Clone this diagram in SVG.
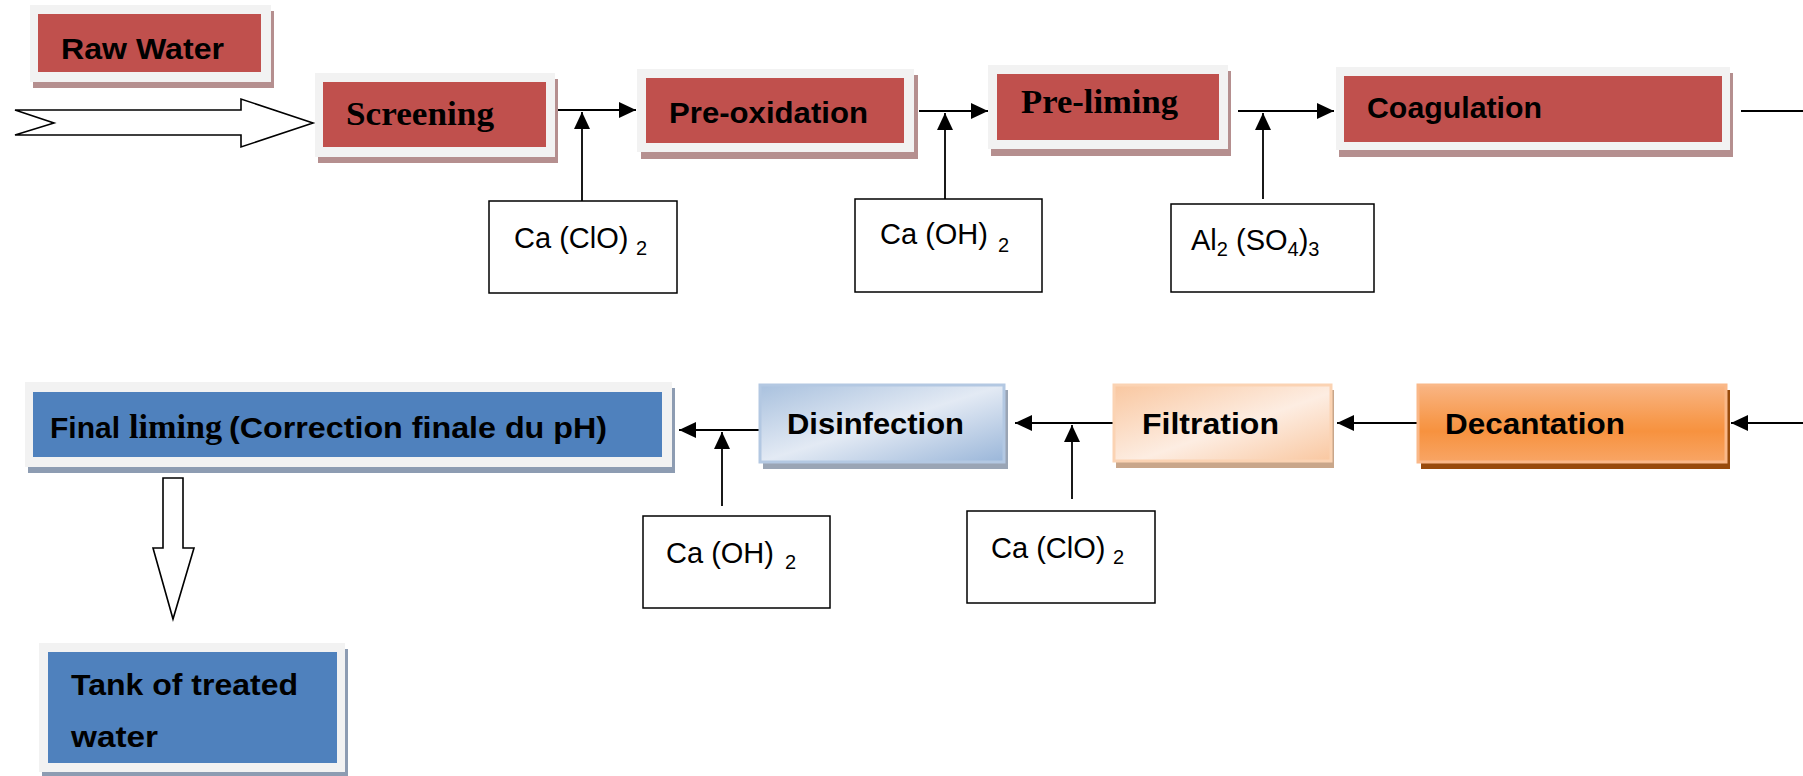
<svg xmlns="http://www.w3.org/2000/svg" width="1803" height="776" viewBox="0 0 1803 776">
<defs>
<style>
.frame{fill:#f2f2f2}
.shR{fill:#b58f8f}
.shB{fill:#8d9cb2}
.red{fill:#c0504d}
.blue{fill:#4f81bd}
.lbl{font-family:"Liberation Sans",Arial,sans-serif;font-weight:bold;font-size:30px;fill:#000}
.ser{font-family:"Liberation Serif","Times New Roman",serif;font-weight:bold;font-size:34px;fill:#000}
.chem{font-family:"Liberation Sans",Arial,sans-serif;font-size:29px;fill:#000}
.sub{font-family:"Liberation Sans",Arial,sans-serif;font-size:20px;fill:#000}
.cbox{fill:#fff;stroke:#000;stroke-width:1.5}
.con{fill:none;stroke:#000;stroke-width:1.8}
.hollow{fill:#fff;stroke:#000;stroke-width:1.6;stroke-linejoin:miter}
</style>
<marker id="ah" markerWidth="17" markerHeight="16" refX="17" refY="8" orient="auto" markerUnits="userSpaceOnUse">
<path d="M0,0 L17,8 L0,16 Z" fill="#000"/>
</marker>
<linearGradient id="gDis" x1="0" y1="0" x2="1" y2="1">
<stop offset="0" stop-color="#a9c1de"/>
<stop offset="0.5" stop-color="#e3eaf4"/>
<stop offset="1" stop-color="#9ab6d9"/>
</linearGradient>
<linearGradient id="gFil" x1="0" y1="0" x2="1" y2="1">
<stop offset="0" stop-color="#f9c7a0"/>
<stop offset="0.55" stop-color="#fdede2"/>
<stop offset="1" stop-color="#f9c7a0"/>
</linearGradient>
<linearGradient id="gDec" x1="0" y1="0" x2="0" y2="1">
<stop offset="0" stop-color="#f9b584"/>
<stop offset="0.45" stop-color="#f79a4e"/>
<stop offset="0.6" stop-color="#f7923f"/>
<stop offset="1" stop-color="#f8a565"/>
</linearGradient>
</defs>
<rect width="1803" height="776" fill="#fff"/>

<g id="connectors">
<path class="hollow" d="M15,110 L241,110 L241,99 L313,123 L241,147 L241,135 L15,135 L54,123 Z"/>
<path class="hollow" d="M163,478 H183 V548 H194 L173,619 L153,548 H163 Z"/>
<path class="con" d="M557,110 H636" marker-end="url(#ah)"/>
<path class="con" d="M582,201 V112" marker-end="url(#ah)"/>
<path class="con" d="M919,111 H988" marker-end="url(#ah)"/>
<path class="con" d="M945,199 V113" marker-end="url(#ah)"/>
<path class="con" d="M1238,111 H1334" marker-end="url(#ah)"/>
<path class="con" d="M1263,199 V113" marker-end="url(#ah)"/>
<path class="con" d="M1741,111 H1803"/>
<path class="con" d="M1803,423 H1731" marker-end="url(#ah)"/>
<path class="con" d="M1417,423 H1337" marker-end="url(#ah)"/>
<path class="con" d="M1113,423 H1015" marker-end="url(#ah)"/>
<path class="con" d="M1072,499 V425" marker-end="url(#ah)"/>
<path class="con" d="M759,430 H679" marker-end="url(#ah)"/>
<path class="con" d="M722,506 V432" marker-end="url(#ah)"/>
</g>

<g id="raw-water">
<rect class="shR" x="33" y="11" width="241" height="77"/>
<rect class="frame" x="30" y="5" width="241" height="77"/>
<rect class="red" x="38" y="14" width="223" height="58"/>
<text class="lbl" x="61" y="59" textLength="163" lengthAdjust="spacingAndGlyphs">Raw Water</text>
</g>

<g id="screening">
<rect class="shR" x="318" y="79" width="240" height="84"/>
<rect class="frame" x="315" y="73" width="240" height="84"/>
<rect class="red" x="323" y="82" width="223" height="65"/>
<text class="ser" x="346" y="125" textLength="148" lengthAdjust="spacingAndGlyphs">Screening</text>
</g>

<g id="pre-oxidation">
<rect class="shR" x="641" y="75" width="277" height="84"/>
<rect class="frame" x="637" y="69" width="277" height="83"/>
<rect class="red" x="646" y="78" width="258" height="65"/>
<text class="lbl" x="669" y="123" textLength="199" lengthAdjust="spacingAndGlyphs">Pre-oxidation</text>
</g>

<g id="pre-liming">
<rect class="shR" x="991" y="71" width="240" height="85"/>
<rect class="frame" x="988" y="65" width="240" height="84"/>
<rect class="red" x="997" y="74" width="222" height="66"/>
<text class="ser" x="1021" y="113" textLength="157" lengthAdjust="spacingAndGlyphs">Pre-liming</text>
</g>

<g id="coagulation">
<rect class="shR" x="1339" y="73" width="394" height="84"/>
<rect class="frame" x="1336" y="67" width="394" height="83"/>
<rect class="red" x="1344" y="76" width="378" height="66"/>
<text class="lbl" x="1367" y="118" textLength="175" lengthAdjust="spacingAndGlyphs">Coagulation</text>
</g>

<g id="chem-caclo2-1">
<rect class="cbox" x="489" y="201" width="188" height="92"/>
<text class="chem" x="514" y="248">Ca (ClO)</text>
<text class="sub" x="636" y="255">2</text>
</g>

<g id="chem-caoh2-1">
<rect class="cbox" x="855" y="199" width="187" height="93"/>
<text class="chem" x="880" y="244">Ca (OH)</text>
<text class="sub" x="998" y="252">2</text>
</g>

<g id="chem-al2so43">
<rect class="cbox" x="1171" y="204" width="203" height="88"/>
<text class="chem" x="1191" y="250">Al<tspan class="sub" dy="6">2</tspan><tspan dy="-6"> (SO</tspan><tspan class="sub" dy="6">4</tspan><tspan dy="-6">)</tspan><tspan class="sub" dy="6">3</tspan></text>
</g>

<g id="final-liming">
<rect class="shB" x="28" y="388" width="647" height="85"/>
<rect class="frame" x="25" y="382" width="647" height="85"/>
<rect class="blue" x="33" y="392" width="629" height="65"/>
<text class="lbl" x="50" y="438">Final</text>
<text class="ser" x="129" y="438" font-size="32" textLength="93" lengthAdjust="spacingAndGlyphs">liming</text>
<text class="lbl" x="229" y="438" textLength="378" lengthAdjust="spacingAndGlyphs">(Correction finale du pH)</text>
</g>

<g id="disinfection">
<rect fill="#9aa5b5" x="763" y="390" width="245" height="79"/>
<rect fill="url(#gDis)" stroke="#b3c8e2" stroke-width="3" x="760" y="385" width="244" height="77"/>
<text class="lbl" x="787" y="434" textLength="177" lengthAdjust="spacingAndGlyphs">Disinfection</text>
</g>

<g id="filtration">
<rect fill="#c9a68a" x="1116" y="390" width="218" height="78"/>
<rect fill="url(#gFil)" stroke="#fbd3b3" stroke-width="3" x="1114" y="385" width="217" height="76"/>
<text class="lbl" x="1142" y="434" textLength="137" lengthAdjust="spacingAndGlyphs">Filtration</text>
</g>

<g id="decantation">
<rect fill="#984b0c" x="1421" y="390" width="309" height="79"/>
<rect fill="url(#gDec)" stroke="#fab888" stroke-width="3" x="1418" y="385" width="308" height="77"/>
<text class="lbl" x="1445" y="434" textLength="180" lengthAdjust="spacingAndGlyphs">Decantation</text>
</g>

<g id="chem-caoh2-2">
<rect class="cbox" x="643" y="516" width="187" height="92"/>
<text class="chem" x="666" y="563">Ca (OH)</text>
<text class="sub" x="785" y="569">2</text>
</g>

<g id="chem-caclo2-2">
<rect class="cbox" x="967" y="511" width="188" height="92"/>
<text class="chem" x="991" y="558">Ca (ClO)</text>
<text class="sub" x="1113" y="564">2</text>
</g>

<g id="tank">
<rect class="shB" x="42" y="649" width="306" height="130"/>
<rect class="frame" x="39" y="643" width="306" height="129"/>
<rect class="blue" x="48" y="652" width="289" height="111"/>
<text class="lbl" x="71" y="695" textLength="227" lengthAdjust="spacingAndGlyphs">Tank of treated</text>
<text class="lbl" x="71" y="747" textLength="87" lengthAdjust="spacingAndGlyphs">water</text>
</g>
</svg>
